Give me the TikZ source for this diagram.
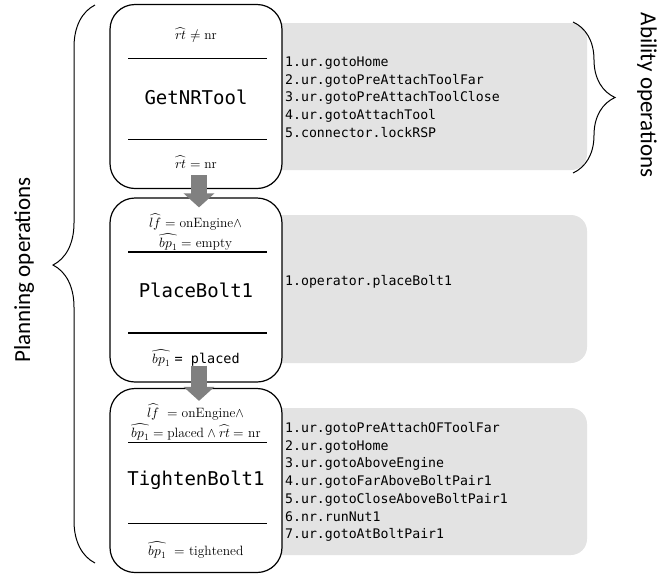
\documentclass[tikz,border=0pt]{standalone}
\usepackage{fontspec}
\usepackage{unicode-math}
\setmathfont{Latin Modern Math}
\setsansfont{Carlito}
\setmonofont{DejaVu Sans Mono}
\usetikzlibrary{arrows.meta,decorations.pathreplacing,positioning}
\definecolor{listgray}{RGB}{227,227,227}
\definecolor{arrowgray}{RGB}{128,128,128}
\begin{document}
\begin{tikzpicture}[x=1pt,y=-1pt,
        opbox/.style={draw, line width=1.2pt, rounded corners=25pt, fill=white,
            minimum width=172pt, minimum height=184pt},
        listbg/.style={fill=listgray, rounded corners=16pt, minimum width=337pt},
        oplist/.style={font=\fontsize{13.2}{17.7}\selectfont\ttfamily, align=left,
            anchor=west, inner sep=0pt},
        optitle/.style={font=\fontsize{19}{22}\selectfont\ttfamily, inner sep=0pt},
        cond/.style={font=\fontsize{13.5}{20}\selectfont, align=center, inner sep=0pt},
        sepline/.style={line width=1.2pt},
        flow/.style={-{Triangle[width=30pt,length=14pt]}, line width=16pt, arrowgray},
        bracket/.style={decorate, decoration={brace, amplitude=42pt}, line width=1pt},
        side/.style={font=\fontsize{23}{26}\selectfont\sffamily}]
    \useasboundingbox (0,0) rectangle (670,574);

    % grey ability lists
    \node[listbg, minimum height=147pt] (bg1) at (418.5,96.5) {};
    \node[listbg, minimum height=148pt] (bg2) at (418.5,289) {};
    \node[listbg, minimum height=147pt] (bg3) at (418.5,481.5) {};

    % planning operations with their two separators
    \foreach \i/\y in {1/96.5, 2/290, 3/480.5} {
        \node[opbox] (box\i) at (196,\y) {};
        \draw[sepline] ([xshift=19pt, yshift=38pt]box\i.west) -- ([xshift=-16pt, yshift=38pt]box\i.east);
        \draw[sepline] ([xshift=19pt, yshift=-43pt]box\i.west) -- ([xshift=-16pt, yshift=-43pt]box\i.east);
    }

    \node[cond] (pre1) at (196,35) {$\widehat{rt} \neq \mathrm{nr}$};
    \node[optitle] (name1) at (196,97) {GetNRTool};
    \node[cond] (post1) at (196,162) {$\widehat{rt} = \mathrm{nr}$};

    \node[cond] (pre2) at (196,232) {$\widehat{lf} = \mathrm{onEngine} \wedge$\\$\widehat{bp_1} = \mathrm{empty}$};
    \node[optitle] (name2) at (196,290) {PlaceBolt1};
    \node[cond] (post2) at (196,358) {$\widehat{bp_1}$ \texttt{= placed}};

    \node[cond] (pre3) at (196,422) {$\widehat{lf}\ = \mathrm{onEngine} \wedge$\\$\widehat{bp_1} = \mathrm{placed} \wedge \widehat{rt} = \mathrm{nr}$};
    \node[optitle] (name3) at (196,480) {TightenBolt1};
    \node[cond] (post3) at (196,550) {$\widehat{bp_1}\ = \mathrm{tightened}$};

    % ability operations
    \node[oplist] (ops1) at (285,97) {1.ur.gotoHome\\2.ur.gotoPreAttachToolFar\\3.ur.gotoPreAttachToolClose\\4.ur.gotoAttachTool\\5.connector.lockRSP};
    \node[oplist] (ops2) at (285,282) {1.operator.placeBolt1};
    \node[oplist] (ops3) at (285,482) {1.ur.gotoPreAttachOFToolFar\\2.ur.gotoHome\\3.ur.gotoAboveEngine\\4.ur.gotoFarAboveBoltPair1\\5.ur.gotoCloseAboveBoltPair1\\6.nr.runNut1\\7.ur.gotoAtBoltPair1};

    % flow between the operations
    \draw[flow] ([xshift=3pt, yshift=14pt]box1.south) -- ([xshift=3pt, yshift=-10pt]box2.north);
    \draw[flow] ([xshift=3pt, yshift=17pt]box2.south) -- ([xshift=3pt, yshift=-13pt]box3.north);

    % braces
    \coordinate (plantop) at (95,5);
    \coordinate (planbot) at (95,563);
    \draw[bracket, decoration={aspect=0.534}] (planbot) -- (plantop);
    \node[side, rotate=90] (plan) at (24,270) {Planning operations};

    \coordinate (abtop) at (573,22);
    \coordinate (abbot) at (573,173);
    \draw[bracket] (abtop) -- (abbot);
    \node[side, rotate=-90] (abil) at (647,95) {Ability operations};
\end{tikzpicture}
\end{document}
